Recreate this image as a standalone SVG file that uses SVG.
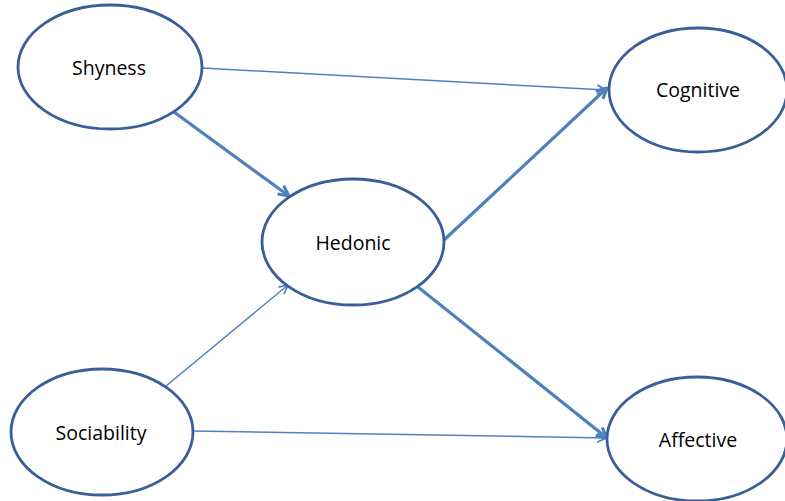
<svg xmlns="http://www.w3.org/2000/svg" width="785" height="501" viewBox="0 0 785 501">
<style>
.node ellipse{fill:#ffffff;stroke:#3a5f98;stroke-width:2.8}
.node text{font-family:"Open Sans","Liberation Sans",sans-serif;font-size:19.5px;fill:#000;text-anchor:middle;dominant-baseline:central}
.thin{stroke:#4f81bd;stroke-width:1.5;fill:none;marker-end:url(#ahThin)}
.thick{stroke:#4f81bd;stroke-width:3.2;fill:none;marker-end:url(#ahThick)}
</style>
<defs>
<marker id="ahThin" viewBox="0 0 10 10" refX="9" refY="5" markerUnits="userSpaceOnUse" markerWidth="11" markerHeight="11" orient="auto">
<path d="M1,1 L9,5 L1,9" fill="none" stroke="#4f81bd" stroke-width="1.6"/>
</marker>
<marker id="ahThick" viewBox="0 0 10 10" refX="9" refY="5" markerUnits="userSpaceOnUse" markerWidth="13" markerHeight="13" orient="auto">
<path d="M1,1 L9,5 L1,9" fill="none" stroke="#4f81bd" stroke-width="2.4"/>
</marker>
</defs>
<rect width="785" height="501" fill="#ffffff"/>
<g id="connectors">
<line class="thin" x1="202" y1="68" x2="606" y2="90"/>
<line class="thick" x1="174" y1="112" x2="289" y2="196"/>
<line class="thick" x1="444" y1="240" x2="607" y2="88"/>
<line class="thick" x1="418" y1="287" x2="607" y2="438"/>
<line class="thin" x1="166" y1="386" x2="288" y2="285"/>
<line class="thin" x1="193" y1="431" x2="606" y2="438"/>
</g>
<g id="shyness" class="node"><ellipse cx="110" cy="67" rx="92" ry="62"/><text x="109" y="67">Shyness</text></g>
<g id="hedonic" class="node"><ellipse cx="353" cy="242" rx="91" ry="63"/><text x="353" y="242">Hedonic</text></g>
<g id="cognitive" class="node"><ellipse cx="698" cy="90" rx="89" ry="62"/><text x="698" y="89">Cognitive</text></g>
<g id="sociability" class="node"><ellipse cx="102" cy="432" rx="91" ry="63"/><text x="101" y="432">Sociability</text></g>
<g id="affective" class="node"><ellipse cx="697" cy="439" rx="90" ry="62"/><text x="698" y="439">Affective</text></g>
</svg>
